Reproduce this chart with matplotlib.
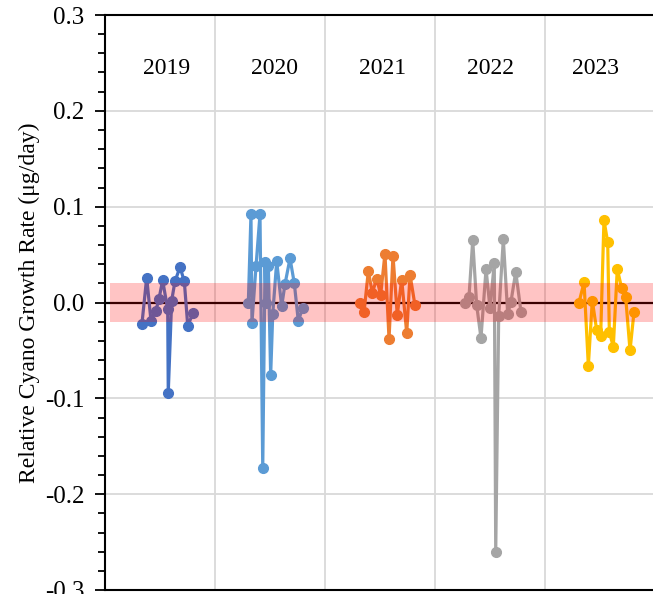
import matplotlib
matplotlib.use('Agg')
import matplotlib.pyplot as plt
from matplotlib import rcParams
from matplotlib.ticker import MultipleLocator, FormatStrFormatter
import numpy as np

config = {
    "font.family": 'Liberation Serif',
    "axes.unicode_minus": False
    }
rcParams.update(config)

# position within the year (fraction of the year) and growth rate
years = ['2019', '2020', '2021', '2022', '2023']
colors = ['#4472C4', '#5B9BD5', '#ED7D31', '#A5A5A5', '#FFC000']

x2019 = [0.336, 0.379, 0.418, 0.461, 0.491, 0.524, 0.570, 0.575, 0.606, 0.636, 0.682, 0.721, 0.752, 0.802]
y2019 = [-0.022, 0.026, -0.019, -0.009, 0.004, 0.023, -0.007, -0.094, 0.002, 0.022, 0.037, 0.022, -0.024, -0.011]

x2020 = [0.303, 0.327, 0.336, 0.373, 0.409, 0.434, 0.455, 0.464, 0.485, 0.506, 0.525, 0.561, 0.606, 0.636, 0.682, 0.721, 0.757, 0.797]
y2020 = [0.000, 0.092, -0.021, 0.038, 0.092, -0.173, 0.042, -0.001, 0.038, -0.076, -0.012, 0.043, -0.004, 0.019, 0.046, 0.020, -0.019, -0.006]

x2021 = [0.318, 0.355, 0.394, 0.430, 0.470, 0.506, 0.545, 0.582, 0.618, 0.657, 0.697, 0.743, 0.773, 0.818]
y2021 = [0.000, -0.010, 0.033, 0.010, 0.025, 0.008, 0.051, -0.038, 0.049, -0.013, 0.024, -0.032, 0.029, -0.003]

x2022 = [0.273, 0.309, 0.343, 0.379, 0.418, 0.464, 0.500, 0.539, 0.552, 0.579, 0.621, 0.661, 0.691, 0.734, 0.782]
y2022 = [0.000, 0.006, 0.065, -0.003, -0.037, 0.035, -0.006, 0.041, -0.260, -0.014, 0.066, -0.012, 0.001, 0.032, -0.010]

x2023 = [0.309, 0.355, 0.394, 0.430, 0.470, 0.506, 0.536, 0.570, 0.585, 0.621, 0.657, 0.697, 0.733, 0.773, 0.809]
y2023 = [0.000, 0.021, -0.066, 0.002, -0.029, -0.035, 0.086, 0.063, -0.031, -0.046, 0.035, 0.015, 0.006, -0.050, -0.010]

xs = [x2019, x2020, x2021, x2022, x2023]
ys = [y2019, y2020, y2021, y2022, y2023]

# where the year labels sit (x in year units)
label_x = [0.564, 1.545, 2.527, 3.509, 4.459]

fig = plt.figure(figsize=(6.53, 5.94), dpi=100)
ax = fig.add_axes([105/653, 4/594, 550/653, 575/594])

for i in range(len(years)):
    ax.plot(i + np.array(xs[i]), ys[i], color=colors[i], linewidth=2.3,
            marker='o', markersize=7, zorder=2, clip_on=False)
    ax.text(label_x[i], 0.244, years[i], fontsize=17, ha='center', va='center')

# zero line and +-0.02 band (band drawn on top, semi transparent)
ax.axhline(0, color='black', linewidth=1.6, zorder=1.5)
ax.axhspan(-0.02, 0.02, xmin=0.009, xmax=1, color='#FF0000', alpha=0.23, linewidth=0, zorder=3)

ax.set_xlim(0, 5)
ax.set_ylim(-0.3, 0.3)
ax.set_xticks([1, 2, 3, 4])
ax.set_xticklabels([])
ax.tick_params(axis='x', length=0)
ax.yaxis.set_major_locator(MultipleLocator(0.1))
ax.yaxis.set_minor_locator(MultipleLocator(0.02))
ax.yaxis.set_major_formatter(FormatStrFormatter('%.1f'))
ax.tick_params(axis='y', which='major', direction='out', length=7, width=1.3, labelsize=18, pad=8)
ax.tick_params(axis='y', which='minor', direction='out', length=5, width=1.3)
ax.grid(True, which='major', color='#D9D9D9', linewidth=1.3, zorder=0)
ax.set_axisbelow(True)

for s in ['left', 'top', 'bottom']:
    ax.spines[s].set_linewidth(1.5)
ax.spines['right'].set_visible(False)

ax.set_ylabel('Relative Cyano Growth Rate (μg/day)', fontsize=17, labelpad=3)

plt.savefig('out.png', dpi=100)
